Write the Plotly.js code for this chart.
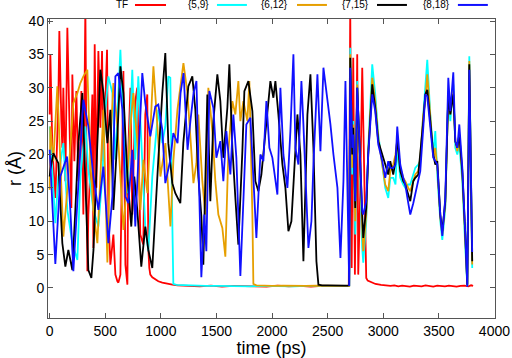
<!DOCTYPE html>
<html>
<head>
<meta charset="utf-8">
<script src="https://cdn.plot.ly/plotly-3.0.1.min.js"></script>
<style>html,body{margin:0;padding:0;background:#fff;}#chart{width:512px;height:358px;}</style>
</head>
<body>
<div id="chart"></div>
<script>
// ---- data ----
var seriesNames = ["TF", "{5,9}", "{6,12}", "{7,15}", "{8,18}"];
var xTicks = [0, 500, 1000, 1500, 2000, 2500, 3000, 3500, 4000];

// TF (red)
var tfT1 = [0, 6, 24, 51, 78, 87, 105, 114, 123, 141, 159, 177, 195, 204, 222, 240, 258, 276, 285, 303, 321, 339, 348, 366, 384, 393, 405, 420, 438, 456, 471, 483, 501, 516, 528, 546, 573, 591, 609, 618, 636, 654, 663, 681, 699, 708, 726, 743, 770, 788, 797, 815, 842, 860, 878, 887, 896, 905, 923, 950, 977, 1013, 1058, 1103, 1150, 1200];
var tfR1 = [26, 35, 21, 13.5, 28, 38.5, 25, 21, 30, 16, 39, 26, 12, 32, 19, 29.5, 16, 22, 29.5, 11, 42, 2.5, 11, 18, 29, 6, 36.5, 15, 35.5, 24, 35.5, 19, 30, 35.7, 11, 3.5, 8, 2, 1, 0.8, 2, 25, 32.5, 3.5, 0.5, 21, 30, 11, 28, 30, 21, 8, 6.5, 26, 29, 6, 3, 2, 1.6, 1.3, 1.0, 0.8, 0.6, 0.5, 0.4, 0.35];
var tfT2 = [1250, 1350, 1450, 1550, 1650, 1750, 1850, 1950, 2050, 2150, 2250, 2350, 2450, 2550, 2650, 2690];
var tfR2 = [0.3, 0.25, 0.35, 0.2, 0.3, 0.25, 0.3, 0.2, 0.35, 0.25, 0.3, 0.2, 0.3, 0.25, 0.3, 0.3];
var tfT3 = [2703, 2716, 2730, 2745, 2766, 2775, 2790, 2811, 2829, 2847, 2860, 2890, 2930, 2980, 3030, 3065, 3100, 3135, 3170, 3205, 3240, 3275, 3310, 3345, 3380, 3415, 3450, 3485, 3520, 3555, 3590, 3625, 3660, 3695, 3730, 3765, 3790, 3808];
var tfR3 = [42, 3, 34.5, 2, 35, 2, 12, 33, 18, 1.5, 1.1, 0.9, 0.6, 0.45, 0.35, 0.3, 0.4, 0.25, 0.35, 0.3, 0.2, 0.35, 0.3, 0.25, 0.4, 0.3, 0.2, 0.35, 0.3, 0.25, 0.35, 0.3, 0.2, 0.3, 0.35, 0.25, 0.4, 0.3];

// {5,9} (cyan)
var c59T1 = [0, 24, 51, 78, 123, 159, 204, 249, 276, 321, 348, 393, 438, 474, 501, 528, 564, 591, 636, 663, 699, 743, 770, 797, 833, 860, 887, 923, 950, 977, 1013, 1040, 1067, 1085, 1103, 1112];
var c59R1 = [24.2, 17.7, 9.7, 16.7, 21.7, 11.7, 6.7, 4.2, 16.7, 24.2, 17.7, 11.7, 9.2, 16.7, 26.7, 31.7, 29.2, 19.2, 35.7, 24.2, 14.2, 32.7, 19.2, 31.7, 19.2, 9.2, 5.5, 16.7, 21.7, 26.7, 21.7, 24.2, 31.7, 31.5, 10, 0.6];
var c59T2 = [1140, 1200, 1300, 1400, 1500, 1600, 1700, 1800, 1900, 2000, 2100, 2200, 2300, 2400, 2500, 2600, 2680];
var c59R2 = [0.45, 0.4, 0.35, 0.3, 0.3, 0.25, 0.3, 0.25, 0.3, 0.25, 0.3, 0.25, 0.3, 0.25, 0.3, 0.3, 0.3];

// {6,12} (orange)
var c612T1 = [0, 6, 33, 69, 96, 123, 159, 186, 213, 249, 276, 303, 339, 366, 393, 429, 456, 483, 519, 546, 573, 609, 636, 663, 699, 726, 753, 789, 816, 843, 879, 906, 933, 969, 996, 1041, 1086, 1113, 1149, 1176, 1203, 1239, 1266, 1293, 1320, 1337, 1373, 1400, 1427, 1463, 1490, 1517, 1553, 1580, 1607, 1643, 1670, 1697, 1715, 1742, 1778, 1796, 1823, 1832];
var c612R1 = [14.7, 24.2, 19, 30.2, 19, 7.7, 14.7, 21.7, 27.7, 29.2, 30.7, 31.7, 32.7, 19, 11.7, 6.7, 16.7, 26.7, 3.8, 21.7, 30.7, 24.2, 16.7, 8.7, 16.7, 24.2, 29.2, 21.7, 11.7, 19.2, 14.2, 24.2, 33.2, 24.2, 16.7, 21.7, 9.2, 19.2, 26.7, 30.2, 33.7, 29.2, 21.7, 15.7, 18.7, 26, 16, 11, 30, 23.5, 16, 11, 9, 4.7, 20.5, 28, 26, 31, 25, 28, 25, 31, 11, 0.6];
var c612T2 = [1860, 1900, 2000, 2100, 2200, 2300, 2400, 2500, 2600, 2680];
var c612R2 = [0.4, 0.35, 0.3, 0.35, 0.3, 0.3, 0.35, 0.3, 0.3, 0.3];

// {7,15} (black)
var c715T1 = [0, 6, 33, 78, 114, 141, 168, 204, 231, 258, 294, 321, 348, 375, 394, 429, 456, 484, 519, 546, 573, 609, 636, 663, 699, 734, 761, 788, 824, 860, 887, 923, 950, 977, 1013, 1040, 1067, 1103, 1130, 1175, 1202, 1247, 1283, 1310, 1337, 1364, 1382, 1418, 1445, 1472, 1508, 1535, 1562, 1598, 1616, 1643, 1670, 1697, 1733, 1751, 1787, 1823, 1850, 1877, 1904, 1931, 1958, 1985, 2012, 2030, 2057, 2093, 2120, 2147, 2174, 2192, 2228, 2255, 2282, 2318, 2345, 2372, 2399, 2417];
var c715R1 = [16.7, 17.7, 20.2, 18.7, 6.7, 3.2, 5.7, 2.7, 11.7, 21.7, 29.2, 16.7, 2.7, 1.5, 5.7, 21.7, 32.7, 29.2, 21.7, 26.7, 11.7, 22.7, 33.2, 29.2, 16.7, 9.2, 16.7, 11.7, 3.2, 9.2, 5.7, 3, 11.7, 19.2, 29.2, 35.2, 21.7, 15.7, 14.2, 12.7, 21.7, 30.2, 31.7, 26.7, 16.7, 10.8, 3.5, 29, 13, 25, 32, 28, 19.5, 27, 33.5, 21, 13.5, 6.5, 20.5, 29.5, 31, 26.5, 16, 14.5, 17, 21.5, 26, 31, 28.5, 31, 26, 18.5, 15, 8.5, 10, 16, 26, 20, 4, 26, 32, 21, 4, 0.5];
var c715T2 = [2450, 2500, 2550, 2600, 2650, 2680];
var c715R2 = [0.4, 0.4, 0.35, 0.4, 0.35, 0.35];

// {8,18} (blue)
var c818T1 = [0, 33, 51, 96, 156, 186, 213, 276, 303, 348, 393, 438, 483, 528, 564, 591, 618, 654, 681, 708, 743, 770, 797, 833, 860, 905, 950, 977, 1013, 1040, 1085, 1112, 1150, 1177, 1204, 1240, 1267, 1294, 1320, 1345, 1364, 1391, 1409, 1436, 1472, 1499, 1535, 1562, 1589, 1625, 1652, 1679, 1697, 1715, 1742, 1769, 1805, 1832, 1859, 1895, 1922, 1949, 1976, 2003, 2021, 2048, 2075, 2102, 2138, 2165, 2192, 2210, 2237, 2264, 2282, 2309, 2327, 2354, 2372, 2408, 2435, 2462, 2498, 2525, 2552, 2588, 2615, 2642, 2660, 2678];
var c818R1 = [20.7, 8.7, 3.6, 16.7, 19.7, 11.7, 2.5, 20.7, 28.2, 24.2, 16.7, 11.7, 18.2, 6.7, 13.7, 31.7, 32.2, 26.7, 13.7, 12.7, 20.7, 9.2, 18.7, 32.2, 27.7, 22.7, 27.2, 27.5, 23.7, 15.7, 19.2, 23.2, 21.7, 29.2, 32.2, 20.7, 25.2, 29.2, 31, 13.5, 1.6, 11, 5.5, 29.5, 27, 19.5, 22, 16, 23.5, 17, 26, 19.5, 10, 1.8, 13, 24.5, 25.5, 16, 7.5, 20, 19, 28, 21, 19.5, 17.5, 14, 30, 20, 15, 23.5, 35, 21, 18.5, 31, 24.5, 13, 6, 10, 18.5, 32, 20.5, 33, 28.5, 24.5, 20, 15, 4.5, 16, 31, 11];

// common stretch after 2690 ps (all but TF follow one path)
var clusterT = [2694, 2703, 2721, 2730, 2748, 2766, 2793, 2811, 2820, 2847, 2865, 2901, 2928, 2955, 2991, 3018, 3045, 3063, 3090, 3110, 3126, 3153, 3180, 3198, 3225, 3243, 3270, 3288, 3315, 3333, 3360, 3378, 3396, 3423, 3450, 3468, 3486, 3513, 3531, 3558, 3585, 3603, 3630, 3648, 3666, 3684, 3711, 3738, 3756, 3774, 3800];
var c59R3  = [0.3, 36, 17, 25, 8, 31, 15, 6, 3.8, 10, 21, 33.5, 29, 23, 18.5, 15, 13.5, 16.5, 16.5, 15.5, 21, 16.5, 15.5, 15, 15.5, 15.5, 17, 18, 18.5, 19, 26, 31, 34.2, 26, 20, 23.5, 17, 10, 7.2, 12, 29.5, 25, 30.5, 21, 20, 21.5, 16, 6, 0.3, 34.7, 3];
var c612R3 = [0.3, 35, 18, 24.5, 10, 30.5, 16, 9, 5.5, 11, 20.5, 31.5, 28, 22.5, 18.5, 15.5, 14.5, 17.5, 18.5, 20, 22, 18, 16.5, 16, 15, 14.5, 16, 17, 17.5, 19.5, 26, 28, 32, 25, 19.5, 21, 18, 10.5, 8, 12.5, 29, 26, 29.5, 22, 20.5, 22.5, 17, 7, 0.4, 34, 3.5];
var c715R3 = [0.4, 34.5, 20, 24, 12, 30, 17, 11, 7.5, 12, 20, 30.5, 27, 22, 20, 18.5, 17, 19, 17, 19, 22.5, 17.5, 16, 15.5, 14, 13, 16, 16.5, 17, 20, 25, 29, 29.7, 25, 20, 18.5, 19, 11, 8.5, 13, 29, 26, 29, 22, 21, 23, 17.5, 8, 0.5, 33.5, 4];
var c818R3 = [0.3, 33, 21, 23, 13, 30, 18, 11.5, 11, 13, 20, 29, 26.5, 21.5, 19, 16.5, 19, 18, 18, 18.5, 24.2, 18.5, 16.5, 15.5, 12.7, 11, 12.7, 14, 16, 17.5, 24, 29, 28.7, 24.5, 19.5, 19, 18.5, 11, 7.8, 13.5, 31.5, 26.5, 32.3, 22, 21, 24.5, 18, 8, 0.2, 32.7, 5.4];

var colors = ["#ff0000", "#00ffff", "#e69f00", "#000000", "#1010ff"];

// ---- build traces ----
function cat() { var o = []; for (var i = 0; i < arguments.length; i++) o = o.concat(arguments[i]); return o; }
var xs = [
  cat(tfT1, tfT2, tfT3),
  cat(c59T1, c59T2, clusterT),
  cat(c612T1, c612T2, clusterT),
  cat(c715T1, c715T2, clusterT),
  cat(c818T1, clusterT)
];
var ys = [
  cat(tfR1, tfR2, tfR3),
  cat(c59R1, c59R2, c59R3),
  cat(c612R1, c612R2, c612R3),
  cat(c715R1, c715R2, c715R3),
  cat(c818R1, c818R3)
];
var traces = seriesNames.map(function (n, i) {
  return { x: xs[i], y: ys[i], name: n, type: "scatter", mode: "lines",
           line: { color: colors[i], width: 1.8 }, hoverinfo: "skip" };
});

// ---- legend drawn gnuplot-style: label, then sample line ----
var legText = [0.1834, 0.3647, 0.5414, 0.7226, 0.9038];
var legLine0 = [0.1946, 0.378, 0.557, 0.736, 0.917];
var legLine1 = [0.264, 0.445, 0.624, 0.803, 0.984];
var annotations = seriesNames.map(function (n, i) {
  return { text: n, xref: "paper", yref: "paper", x: legText[i], y: 1.047, xanchor: "right", yanchor: "middle",
           showarrow: false, font: { family: "Liberation Sans, Arial, sans-serif", size: 10, color: "#000" } };
});
var shapes = seriesNames.map(function (n, i) {
  return { type: "line", xref: "paper", yref: "paper", x0: legLine0[i], x1: legLine1[i], y0: 1.047, y1: 1.047,
           line: { color: colors[i], width: 2 } };
});

var axisCommon = {
  showline: true, mirror: "ticks", linecolor: "#555", linewidth: 1,
  ticks: "inside", ticklen: 5, tickcolor: "#555", tickwidth: 1,
  showgrid: false, zeroline: false,
  tickfont: { family: "Liberation Sans, Arial, sans-serif", size: 14, color: "#000" }
};
var layout = {
  width: 512, height: 358,
  margin: { l: 48, r: 17, t: 19, b: 40 },
  paper_bgcolor: "#fff", plot_bgcolor: "#fff",
  showlegend: false,
  xaxis: Object.assign({}, axisCommon, {
    range: [-15, 4005], tickvals: xTicks,
    title: { text: "time (ps)", font: { family: "Liberation Sans, Arial, sans-serif", size: 18, color: "#000" }, standoff: 2 }
  }),
  yaxis: Object.assign({}, axisCommon, {
    range: [-4.5, 40.3], tick0: 0, dtick: 5,
    title: { text: "r (Å)", font: { family: "Liberation Sans, Arial, sans-serif", size: 18, color: "#000" }, standoff: 2 }
  }),
  annotations: annotations,
  shapes: shapes
};
Plotly.newPlot("chart", traces, layout, { staticPlot: true });
</script>
</body>
</html>
